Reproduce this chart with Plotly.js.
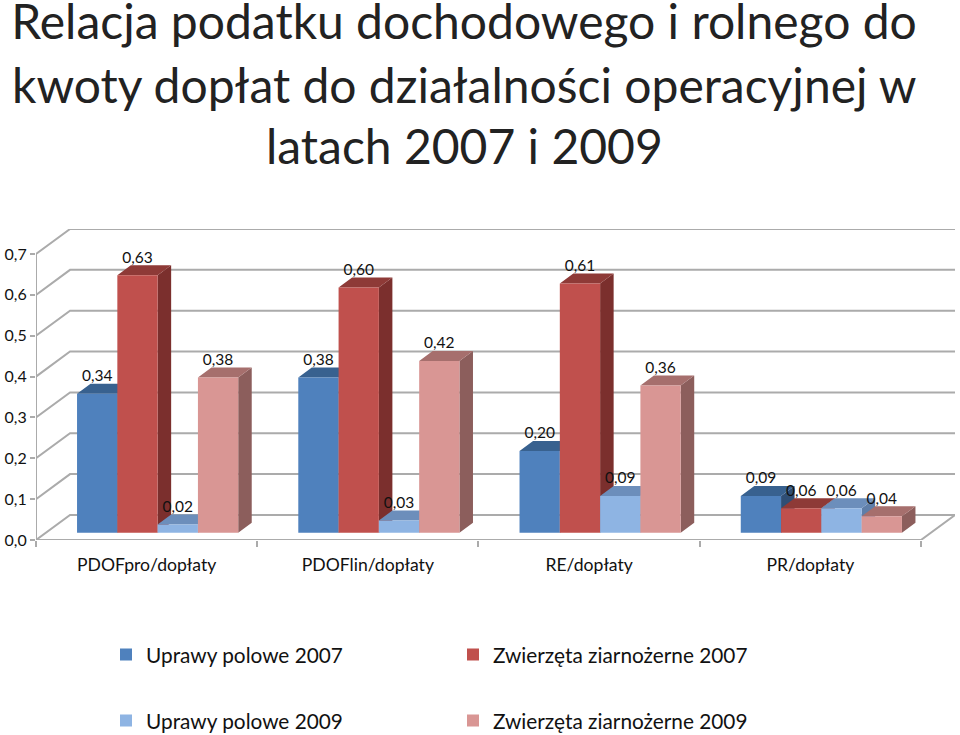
<!DOCTYPE html>
<html><head><meta charset="utf-8">
<script src="https://cdn.plot.ly/plotly-3.0.1.min.js"></script>
<style>html,body{margin:0;padding:0;background:#fff}</style>
</head><body><div id="chart" style="width:960px;height:735px"></div>
<script>
const categories = ["PDOFpro/dopłaty","PDOFlin/dopłaty","RE/dopłaty","PR/dopłaty"];
const seriesNames = ["Uprawy polowe 2007","Zwierzęta ziarnożerne 2007","Uprawy polowe 2009","Zwierzęta ziarnożerne 2009"];
const upr2007 = [0.34,0.38,0.20,0.09];
const zw2007  = [0.63,0.60,0.61,0.06];
const upr2009 = [0.02,0.03,0.09,0.06];
const zw2009  = [0.38,0.42,0.36,0.04];
const yTicks = [0,0.1,0.2,0.3,0.4,0.5,0.6,0.7];
const yTickText = ["0,0","0,1","0,2","0,3","0,4","0,5","0,6","0,7"];
const frontColors = ["#4F81BD","#C0504D","#8EB4E3","#D99694"];
const topColors   = ["#38618F","#8E3A37","#6C8EBB","#A66F6D"];
const sideColors  = ["#2F4E75","#7B2F2D","#5F7EA8","#8C5E5C"];

const W=960,H=735,L=36,R=955,T=229,B=540;
const values=[upr2007,zw2007,upr2009,zw2009];
const wallDx=34/221, wallDy=25/408, barDx=13.5/221, barDy=10/408;
const barW=40.25/221, baseLift=7.3/408, groupShift=11/221, labelLift=16.5/408;
const FONT='Lato, sans-serif', GRID='#ABABAB';
const xMax=4+wallDx, yMax=0.7+wallDy;
const barX=(c,s)=>c+0.5+groupShift+(s-1.5)*barW;
const px=x=>(x-L)/(R-L), py=y=>(B-y)/(B-T);

const traces=[];
// walls and floor
const gx=[],gy=[];
yTicks.slice(1).forEach(v=>{gx.push(0,wallDx,4+wallDx,null);gy.push(v,v+wallDy,v+wallDy,null);});
gx.push(0,wallDx,4+wallDx,4,0,null);gy.push(0,wallDy,wallDy,0,0,null);
gx.push(0,0);gy.push(0,0.7);
traces.push({type:'scatter',mode:'lines',x:gx,y:gy,line:{color:GRID,width:2},cliponaxis:false,showlegend:false,hoverinfo:'skip'});
// sides first, then tops
function face(s,kind){
  const xs=[],ys=[];
  values[s].forEach((v,c)=>{
    const l=barX(c,s)-barW/2,r=barX(c,s)+barW/2,b=baseLift,t=baseLift+v;
    if(kind==='side'){xs.push(r,r+barDx,r+barDx,r,r,null);ys.push(b,b+barDy,t+barDy,t,b,null);}
    else{xs.push(l,l+barDx,r+barDx,r,l,null);ys.push(t,t+barDy,t+barDy,t,t,null);}
  });
  return {type:'scatter',mode:'lines',x:xs,y:ys,fill:'toself',
    fillcolor:kind==='side'?sideColors[s]:topColors[s],line:{width:0,color:kind==='side'?sideColors[s]:topColors[s]},
    showlegend:false,hoverinfo:'skip',cliponaxis:false};
}
[0,1,2,3].forEach(s=>traces.push(face(s,'side')));
[0,1,2,3].forEach(s=>traces.push(face(s,'top')));
// front faces on the overlay subplot, above sides and tops
const legendIds=['legend','legend2','legend3','legend4'];
values.forEach((vals,s)=>{
  traces.push({type:'bar',name:seriesNames[s],xaxis:'x2',yaxis:'y2',
    x:vals.map((v,c)=>barX(c,s)),y:vals,base:vals.map(()=>baseLift),width:barW,
    marker:{color:frontColors[s],line:{width:0}},legend:legendIds[s],showlegend:true,hoverinfo:'skip'});
});
values.forEach((vals,s)=>{
  traces.push({type:'scatter',mode:'text',xaxis:'x2',yaxis:'y2',
    x:vals.map((v,c)=>barX(c,s)),y:vals.map(v=>v+baseLift+labelLift),
    text:vals.map(v=>v.toFixed(2).replace('.',',')),textposition:'middle center',
    textfont:{family:FONT,size:15.5,color:'#111'},showlegend:false,hoverinfo:'skip',cliponaxis:false});
});
const legendAt=(pxx,pyy)=>({x:px(pxx),y:py(pyy),xanchor:'left',yanchor:'middle',bgcolor:'rgba(0,0,0,0)',
  borderwidth:0,font:{family:FONT,size:20.8,color:'#111'},itemclick:false,itemdoubleclick:false});
const TITLE_SIZE=48;
const layout={
  width:W,height:H,paper_bgcolor:'#fff',plot_bgcolor:'#fff',barmode:'overlay',
  margin:{l:L,r:W-R,t:T,b:H-B,pad:0,autoexpand:false},
  title:{text:"Relacja podatku dochodowego i rolnego do",x:464/W,xref:'container',xanchor:'center',
    y:1-22/H,yref:'container',yanchor:'middle',font:{family:FONT,size:TITLE_SIZE,color:'#222'}},
  annotations:[
    {text:"kwoty dopłat do działalności operacyjnej w",x:px(464),y:py(84)},
    {text:"latach 2007 i 2009",x:px(464),y:py(145)}
  ].map(a=>Object.assign(a,{xref:'paper',yref:'paper',xanchor:'center',yanchor:'middle',showarrow:false,
    font:{family:FONT,size:TITLE_SIZE,color:'#222'}})),
  xaxis:{range:[0,xMax],tickvals:[0.5,1.5,2.5,3.5],ticktext:categories,ticks:'',showgrid:false,zeroline:false,showline:false,
    tickfont:{family:FONT,size:17.6,color:'#111'},ticklabelstandoff:12,
    minor:{tickmode:'array',tickvals:[0,1,2,3,4],ticks:'outside',ticklen:6,tickwidth:2,tickcolor:GRID,showgrid:false}},
  yaxis:{range:[0,yMax],tickvals:yTicks,ticktext:yTickText,ticks:'outside',ticklen:5,tickwidth:2,tickcolor:GRID,
    showgrid:false,zeroline:false,showline:false,ticklabelstandoff:2.5,tickfont:{family:FONT,size:16,color:'#111'}},
  xaxis2:{overlaying:'x',range:[0,xMax],visible:false},
  yaxis2:{overlaying:'y',range:[0,yMax],visible:false},
  legend:legendAt(106,655),legend2:legendAt(453,655),legend3:legendAt(106,721),legend4:legendAt(453,721)
};
Plotly.newPlot('chart',traces,layout,{displayModeBar:false,staticPlot:true});
</script></body></html>
